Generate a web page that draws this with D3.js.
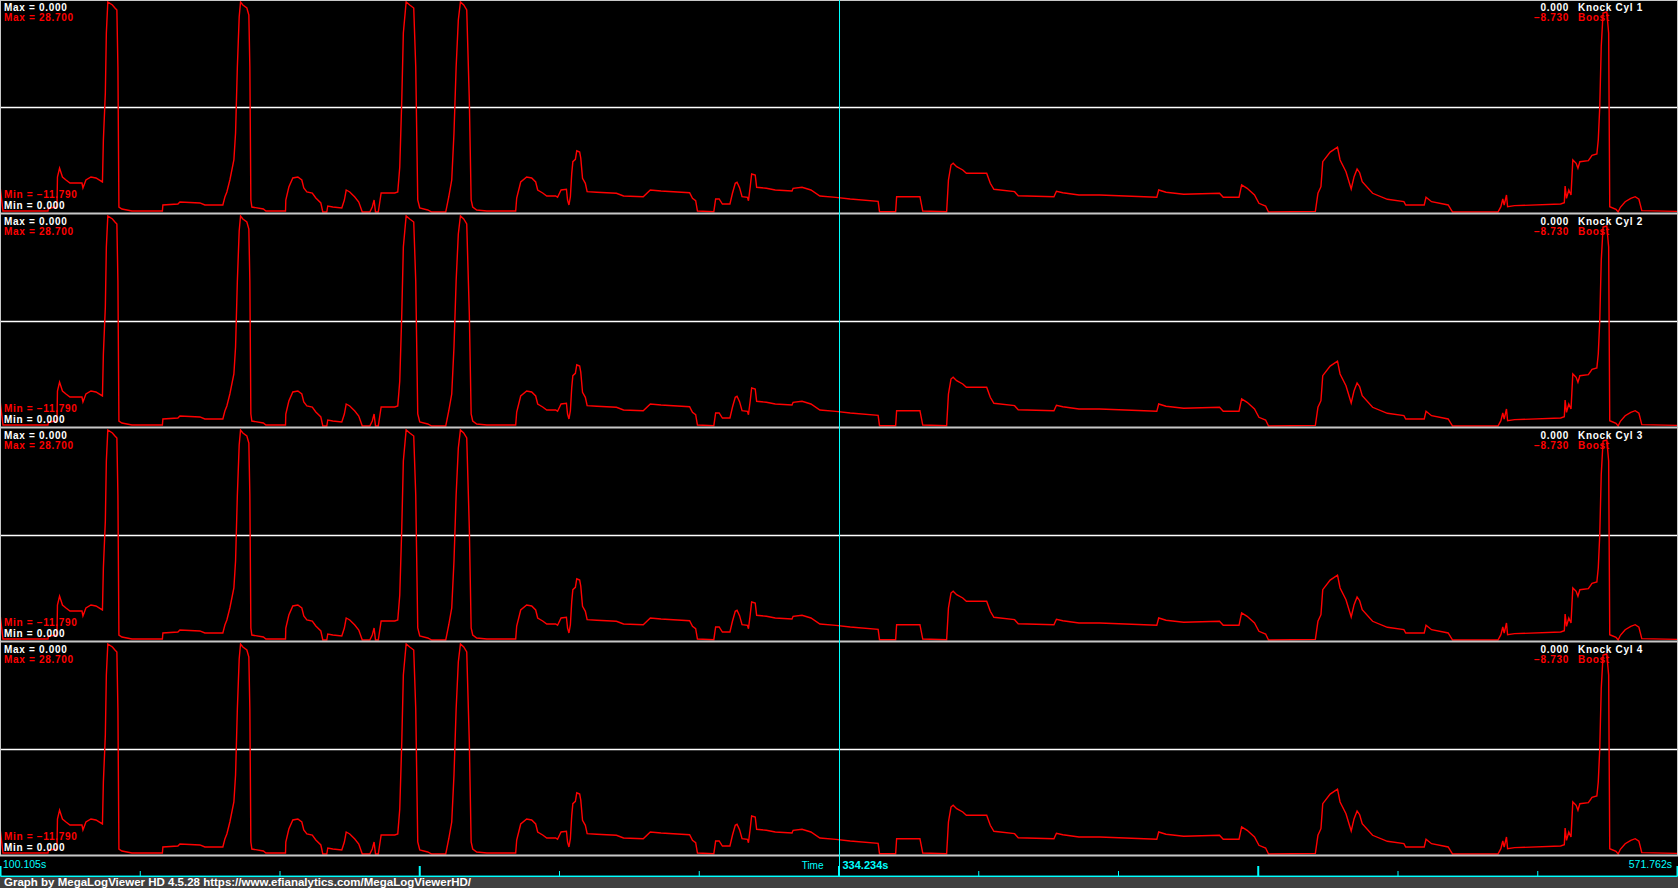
<!DOCTYPE html>
<html>
<head>
<meta charset="utf-8">
<script src="https://cdn.jsdelivr.net/npm/d3@7"></script>
<style>
body { margin: 0; background: #000; overflow: hidden; }
svg { display: block; }
</style>
</head>
<body>
<div id="chart"></div>
<script>
// data (time in s, boost in psi)
const boostTime = [
  100.11, 100.94, 113.49, 113.64, 116.01, 116.15, 116.74, 117.54, 118.53, 119.64,
  122.99, 123.27, 124.10, 125.50, 126.89, 128.71, 128.97, 129.52, 129.80, 130.21,
  131.50, 132.20, 132.74, 133.03, 133.31, 134.15, 136.94, 145.45, 145.59, 149.78,
  150.34, 155.92, 157.31, 162.33, 162.90, 163.45, 164.29, 165.41, 165.88, 166.38,
  166.89, 167.27, 167.92, 169.03, 169.59, 169.87, 170.15, 170.43, 173.65, 174.34,
  179.83, 179.91, 180.76, 181.87, 183.27, 184.38, 184.93, 185.78, 187.30, 188.29,
  189.69, 190.24, 191.35, 191.63, 193.03, 195.54, 196.26, 196.77, 197.77, 199.17,
  200.28, 201.26, 203.36, 204.05, 204.56, 204.95, 205.73, 206.53, 210.33, 211.17,
  211.73, 212.29, 212.73, 213.51, 214.52, 215.63, 216.19, 216.75, 217.31, 219.54,
  220.65, 224.56, 224.84, 225.40, 226.24, 226.87, 227.47, 228.08, 228.67, 229.59,
  230.43, 231.15, 231.66, 232.10, 233.21, 236.01, 244.10, 244.38, 245.50, 247.16,
  248.56, 249.68, 250.24, 251.63, 252.77, 255.26, 255.79, 256.77, 258.27, 258.58,
  258.97, 259.37, 259.75, 260.06, 260.76, 261.15, 261.96, 262.27, 262.76, 263.55,
  264.05, 266.73, 272.23, 274.21, 279.71, 281.69, 284.67, 292.66, 293.46, 294.35,
  294.85, 299.42, 299.93, 300.91, 301.82, 303.92, 304.62, 305.41, 305.90, 306.61,
  307.30, 308.81, 309.09, 309.59, 309.98, 310.98, 311.38, 314.09, 316.57, 321.25,
  321.56, 324.05, 326.53, 329.04, 333.51, 337.55, 345.46, 345.85, 350.42, 350.70,
  357.30, 358.10, 364.87, 365.38, 366.10, 366.71, 367.71, 369.43, 370.46, 376.21,
  377.23, 378.25, 384.12, 385.14, 395.26, 395.97, 397.78, 402.35, 408.21, 424.40,
  424.94, 427.01, 432.02, 442.17, 443.22, 447.69, 448.43, 449.99, 452.08, 453.33,
  455.23, 456.05, 469.32, 470.05, 470.90, 471.41, 473.51, 475.59, 476.32, 477.99,
  479.47, 480.29, 481.14, 481.87, 482.59, 485.53, 489.71, 494.40, 494.92, 500.16,
  500.67, 502.23, 506.94, 508.19, 521.05, 521.87, 522.41, 522.81, 523.46, 523.77,
  525.75, 538.80, 539.84, 540.07, 540.46, 541.11, 541.74, 542.25, 543.19, 543.70,
  544.24, 546.65, 547.69, 549.06, 549.46, 549.88, 550.30, 550.82, 551.87, 552.40,
  552.71, 554.48, 555.09, 555.72, 557.08, 558.67, 559.92, 560.97, 561.79, 571.76
];
const boostValue = [
  -6.78, -11.60, -11.60, -11.02, -10.83, -5.04, -3.31, -5.04, -5.62, -6.20,
  -6.20, -7.16, -5.62, -5.04, -5.23, -6.00, 2.09, 11.15, 22.72, 28.70,
  28.12, 27.54, 27.16, 16.17, -10.83, -11.21, -11.60, -11.60, -10.44, -10.25,
  -9.86, -10.05, -10.44, -10.44, -8.90, -7.93, -5.62, -1.76, 3.44, 16.17,
  25.81, 28.70, 28.12, 27.54, 26.19, 16.17, -9.48, -10.83, -11.21, -11.60,
  -11.60, -9.48, -6.97, -5.23, -5.04, -5.62, -7.16, -7.93, -8.13, -9.09,
  -10.05, -11.79, -11.79, -10.63, -10.83, -11.02, -9.48, -7.55, -7.93, -8.90,
  -9.86, -11.79, -11.79, -10.83, -9.48, -11.79, -11.79, -8.13, -8.13, -7.93,
  -3.11, 9.80, 22.72, 28.70, 28.12, 27.54, 16.17, -9.48, -11.02, -11.40,
  -11.79, -11.79, -10.83, -8.90, -5.62, 3.44, 16.17, 25.23, 28.70, 28.12,
  27.16, 9.80, -9.48, -10.83, -11.40, -11.60, -11.60, -9.09, -6.00, -5.04,
  -5.23, -6.00, -7.55, -8.13, -8.71, -8.71, -8.96, -7.55, -7.41, -9.48,
  -10.44, -8.84, -4.33, -2.09, -1.63, 0.00, -0.24, -1.40, -5.29, -6.26,
  -7.87, -7.99, -8.18, -8.71, -8.84, -7.55, -7.74, -8.07, -9.15, -9.61,
  -11.60, -11.73, -9.28, -9.28, -10.25, -10.25, -8.18, -6.26, -6.06, -7.10,
  -8.84, -8.96, -9.61, -6.91, -4.46, -4.66, -7.03, -7.22, -7.55, -7.74,
  -7.22, -7.03, -7.55, -8.71, -8.96, -9.28, -9.73, -11.73, -11.73, -8.84,
  -8.84, -11.60, -11.73, -5.62, -2.73, -2.40, -3.05, -3.69, -4.33, -4.33,
  -6.26, -7.41, -7.87, -8.65, -8.84, -7.80, -8.07, -8.51, -8.51, -8.96,
  -7.55, -7.99, -8.38, -8.18, -8.96, -8.96, -6.58, -7.22, -8.51, -10.11,
  -10.63, -11.79, -11.66, -8.18, -6.91, -2.09, -0.24, 0.72, -1.76, -4.02,
  -7.35, -4.98, -3.50, -4.21, -5.95, -8.18, -9.34, -9.80, -10.44, -10.44,
  -8.96, -9.80, -10.44, -11.79, -11.79, -10.77, -9.28, -10.44, -8.51, -10.77,
  -10.57, -10.25, -9.99, -6.78, -9.15, -7.55, -8.51, -1.76, -2.40, -3.36,
  -2.09, -1.90, -0.86, -0.61, 2.09, 8.52, 20.08, 26.58, 26.77, 22.72,
  -10.77, -11.27, -11.79, -10.88, -9.80, -9.15, -8.84, -9.34, -11.53, -11.66
];
// knock sensors read 0 for the whole log
const knockTime = [100.105, 571.762];
const knockValue = [0, 0];

const panelNames = ["Knock Cyl 1", "Knock Cyl 2", "Knock Cyl 3", "Knock Cyl 4"];
const boostMin = -11.79, boostMax = 28.7;
const knockMin = 0, knockMax = 0;
const timeStart = 100.105, timeEnd = 571.762;
const cursorTime = 334.234, cursorBoost = -8.73, cursorKnock = 0;

// layout
var svgWidth = 1678;
var svgHeight = 888;
var panelH = 214;
var plotRight = 1677;
var axisY = 876;

var f3 = d3.format(".3f");
var font = "'Liberation Sans', Arial, sans-serif";

var svg = d3.select("#chart")
  .append("svg")
  .attr("width", svgWidth)
  .attr("height", svgHeight);

svg.append("rect")
  .attr("width", svgWidth)
  .attr("height", svgHeight)
  .attr("fill", "#000");

// viewer plots by record, cursor sits in the middle of the window
var xScale = d3.scaleLinear()
  .domain([timeStart, cursorTime, timeEnd])
  .range([0, plotRight / 2, plotRight]);

var boostData = boostTime.map((t, i) => [t, boostValue[i]]);
var knockData = knockTime.map((t, i) => [t, knockValue[i]]);

panelNames.forEach(function(name, p) {
  var top = p * panelH;
  var g = svg.append("g").attr("transform", `translate(0, ${top})`);

  var yBoost = d3.scaleLinear().domain([boostMin, boostMax]).range([212, 2]);
  // flat knock range -> d3 puts it in the middle of the panel
  var yKnock = d3.scaleLinear().domain([knockMin, knockMax]).range([212, 2]);

  g.append("path")
    .datum(knockData)
    .attr("fill", "none")
    .attr("stroke", "#fff")
    .attr("stroke-width", 1.3)
    .attr("d", d3.line().x(d => xScale(d[0])).y(d => Math.round(yKnock(d[1])) + 0.5));

  g.append("path")
    .datum(boostData)
    .attr("fill", "none")
    .attr("stroke", "#ff0000")
    .attr("stroke-width", 1.4)
    .attr("d", d3.line().x(d => xScale(d[0])).y(d => yBoost(d[1])));

  // separator under each panel
  g.append("line")
    .attr("x1", 0).attr("x2", svgWidth)
    .attr("y1", 213.5).attr("y2", 213.5)
    .attr("stroke", "#c8c8c8")
    .attr("stroke-width", 2);

  var lab = g.append("g")
    .attr("font-family", font)
    .attr("font-weight", "bold")
    .attr("font-size", "10px")
    .attr("letter-spacing", "0.7px");

  lab.append("text").attr("x", 4).attr("y", 10.5).attr("fill", "#fff")
    .text("Max = " + f3(knockMax));
  lab.append("text").attr("x", 4).attr("y", 21).attr("fill", "#ff0000")
    .text("Max = " + f3(boostMax));
  lab.append("text").attr("x", 4).attr("y", 197.5).attr("fill", "#ff0000")
    .text("Min = " + f3(boostMin));
  lab.append("text").attr("x", 4).attr("y", 208.5).attr("fill", "#fff")
    .text("Min = " + f3(knockMin));

  lab.append("text").attr("x", 1569).attr("y", 10.5).attr("fill", "#fff")
    .attr("text-anchor", "end").text(f3(cursorKnock));
  lab.append("text").attr("x", 1578).attr("y", 10.5).attr("fill", "#fff")
    .text(name);
  lab.append("text").attr("x", 1569).attr("y", 21).attr("fill", "#ff0000")
    .attr("text-anchor", "end").text(f3(cursorBoost));
  lab.append("text").attr("x", 1578).attr("y", 21).attr("fill", "#ff0000")
    .text("Boost");
});

// outer border
svg.append("line").attr("x1", 0).attr("x2", svgWidth).attr("y1", 0.5).attr("y2", 0.5)
  .attr("stroke", "#c8c8c8");
svg.append("line").attr("x1", 0.5).attr("x2", 0.5).attr("y1", 0).attr("y2", 4 * panelH)
  .attr("stroke", "#c8c8c8");
svg.append("line").attr("x1", 1677.5).attr("x2", 1677.5).attr("y1", 0).attr("y2", 4 * panelH)
  .attr("stroke", "#c8c8c8");

// time axis: 12 even divisions of the window, long tick every third
var tickTimes = d3.range(13).map(i => xScale.invert(i * plotRight / 12));
var majorTicks = tickTimes.filter((d, i) => i % 3 === 0);
var minorTicks = tickTimes.filter((d, i) => i % 3 !== 0);

var minorAxis = svg.append("g")
  .attr("transform", `translate(0, ${axisY})`)
  .call(d3.axisTop(xScale).tickValues(minorTicks).tickSize(5).tickSizeOuter(0).tickFormat(""));
var majorAxis = svg.append("g")
  .attr("transform", `translate(0, ${axisY})`)
  .call(d3.axisTop(xScale).tickValues(majorTicks).tickSize(10).tickSizeOuter(0).tickFormat(""));

minorAxis.selectAll(".tick line").attr("stroke", "#00ffff").attr("stroke-width", 1);
majorAxis.selectAll(".tick line").attr("stroke", "#00ffff").attr("stroke-width", 2);
minorAxis.select(".domain").attr("stroke", "#00ffff").attr("stroke-width", 1.5);
majorAxis.select(".domain").attr("stroke", "#00ffff").attr("stroke-width", 1.5);

// cursor
var cx = Math.round(xScale(cursorTime)) + 0.5;
svg.append("line")
  .attr("x1", cx).attr("x2", cx)
  .attr("y1", 0).attr("y2", axisY)
  .attr("stroke", "#00ffff")
  .attr("stroke-width", 1);

var axisText = svg.append("g")
  .attr("font-family", font)
  .attr("font-size", "10.5px")
  .attr("fill", "#00ffff");

axisText.append("text").attr("x", 3).attr("y", 867.5).text(f3(timeStart) + "s");
axisText.append("text").attr("x", 1672).attr("y", 867.5).attr("text-anchor", "end")
  .text(f3(timeEnd) + "s");
axisText.append("text").attr("x", cx - 16).attr("y", 868.5).attr("text-anchor", "end")
  .attr("font-size", "10px").text("Time");
axisText.append("text").attr("x", cx + 3).attr("y", 868.5)
  .attr("font-weight", "bold").attr("font-size", "11px")
  .text(f3(cursorTime) + "s");

// footer
svg.append("rect")
  .attr("x", 0).attr("y", 877)
  .attr("width", svgWidth).attr("height", svgHeight - 877)
  .attr("fill", "#404040");
svg.append("text")
  .attr("x", 4).attr("y", 886)
  .attr("font-family", font)
  .attr("font-weight", "bold")
  .attr("font-size", "11.5px")
  .attr("fill", "#fff")
  .text("Graph by MegaLogViewer HD 4.5.28 https://www.efianalytics.com/MegaLogViewerHD/");
</script>
</body>
</html>
